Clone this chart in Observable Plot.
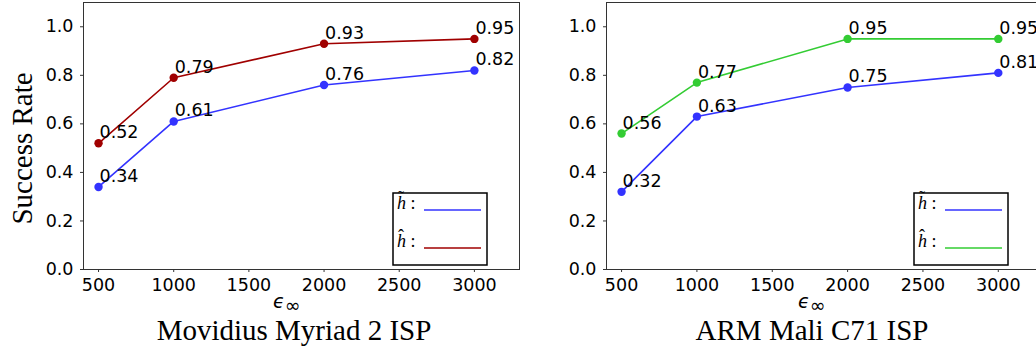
<!DOCTYPE html>
<html><head><meta charset="utf-8">
<script src="https://cdn.jsdelivr.net/npm/d3@7"></script>
<script src="https://cdn.jsdelivr.net/npm/@observablehq/plot@0.6"></script>
<style>
body{margin:0;background:#fff}
#wrap{position:relative;width:1036px;height:354px;overflow:hidden;background:#fff}
#wrap > svg{position:absolute;top:0}
#wrap svg g[aria-label$="tick label"], #wrap svg g[aria-label$="tick label"] text{font-size:17.5px !important;font-family:"DejaVu Sans" !important;fill:#000}
</style>
</head><body><div id="wrap"></div>
<script>
const epsilons = [500, 1000, 2000, 3000];
const movidiusTilde = [0.34, 0.61, 0.76, 0.82];
const movidiusHat = [0.52, 0.79, 0.93, 0.95];
const armTilde = [0.32, 0.63, 0.75, 0.81];
const armHat = [0.56, 0.77, 0.95, 0.95];
const xTicks = [500, 1000, 1500, 2000, 2500, 3000];
const yTicks = [0, 0.2, 0.4, 0.6, 0.8, 1.0];
const panelTitles = ["Movidius Myriad 2 ISP", "ARM Mali C71 ISP"];
const legendAccents = ["\u02dc", "\u02c6"];
const yLabel = "Success Rate";
const blue = "#3333ff", darkRed = "#a00000", green = "#33cc33";

function rows(vals) { return epsilons.map((e, i) => ({x: e, y: vals[i]})); }

function panel(tilde, hat, hatColor, cfg) {
  const A = rows(tilde), B = rows(hat);
  const series = [[A, blue], [B, hatColor]];
  const marks = [
    Plot.frame({stroke: "#333", strokeWidth: 1}),
    Plot.axisX({ticks: xTicks, tickSize: 3, tickPadding: 6, tickFormat: d => String(d), label: null, stroke: "#333", fontSize: 17.5, fill: "#000"}),
    Plot.axisY({ticks: yTicks, tickSize: 3, tickPadding: 7, tickFormat: d3.format(".1f"), label: null, stroke: "#333", fontSize: 17.5, fill: "#000"})
  ];
  for (const [d, c] of series) {
    marks.push(Plot.line(d, {x: "x", y: "y", stroke: c, strokeWidth: 1.6}));
    marks.push(Plot.dot(d, {x: "x", y: "y", fill: c, r: 4.2, stroke: null}));
    marks.push(Plot.text(d, {x: "x", y: "y", text: v => v.y.toFixed(2), textAnchor: "start", lineAnchor: "bottom", dx: 1, dy: -5, fontSize: 17.5, fill: "#000"}));
  }
  const svg = Plot.plot({
    width: cfg.width, height: 354,
    marginLeft: cfg.ml, marginRight: cfg.mr, marginTop: 2, marginBottom: 85,
    x: {domain: [400, 3300]},
    y: {domain: [0, 1.1]},
    style: {fontFamily: "DejaVu Sans", fontSize: "17.5px", color: "#000", background: "transparent", overflow: "visible"},
    marks
  });
  svg.style.left = cfg.left + "px";
  const s = d3.select(svg);
  // x label epsilon_inf
  const xl = s.append("text").attr("x", cfg.epsX).attr("y", 308).attr("text-anchor", "start")
    .attr("font-family", "DejaVu Sans").attr("fill", "#000");
  xl.append("tspan").attr("font-size", 19).attr("font-style", "italic").text("\u03f5");
  xl.append("tspan").attr("font-size", 19).attr("dy", 4).text("\u221e");
  // title
  s.append("text").attr("x", cfg.titleX).attr("y", 340).attr("text-anchor", "middle")
    .attr("font-family", "Liberation Serif").attr("font-size", 29).attr("fill", "#000").text(cfg.title);
  // legend
  const g = s.append("g").attr("text-anchor", "start");
  g.append("rect").attr("x", cfg.legX).attr("y", 193).attr("width", 94).attr("height", 72)
    .attr("fill", "#fff").attr("stroke", "#000").attr("stroke-width", 1.5);
  const legendColors = [blue, hatColor];
  const ly = [210, 248];
  legendAccents.forEach((acc, i) => {
    const t = g.append("text").attr("x", cfg.legX + 4).attr("y", ly[i] - 1)
      .attr("font-family", "Liberation Serif").attr("font-size", 18).attr("fill", "#000");
    t.append("tspan").attr("font-style", "italic").text("h");
    t.append("tspan").attr("dx", -8).attr("dy", -5).text(acc);
    t.append("tspan").attr("dx", 2).attr("dy", 5).text(" :");
    g.append("line").attr("x1", cfg.legX + 31).attr("x2", cfg.legX + 88).attr("y1", ly[i]).attr("y2", ly[i])
      .attr("stroke", legendColors[i]).attr("stroke-width", 1.6);
  });
  if (cfg.yLabel) {
    s.append("text").attr("transform", "translate(32,148.5) rotate(-90)").attr("text-anchor", "middle")
      .attr("font-family", "Liberation Serif").attr("font-size", 29).attr("fill", "#000").text(cfg.yLabel);
  }
  return svg;
}

const wrap = document.getElementById("wrap");
wrap.appendChild(panel(movidiusTilde, movidiusHat, darkRed,
  {width: 520, ml: 83, mr: 1, left: 0, epsX: 273, titleX: 294, legX: 393, title: panelTitles[0], yLabel: yLabel}));
wrap.appendChild(panel(armTilde, armHat, green,
  {width: 523, ml: 86, mr: 0, left: 520, epsX: 278, titleX: 292, legX: 394, title: panelTitles[1], yLabel: null}));
</script>
</body></html>
